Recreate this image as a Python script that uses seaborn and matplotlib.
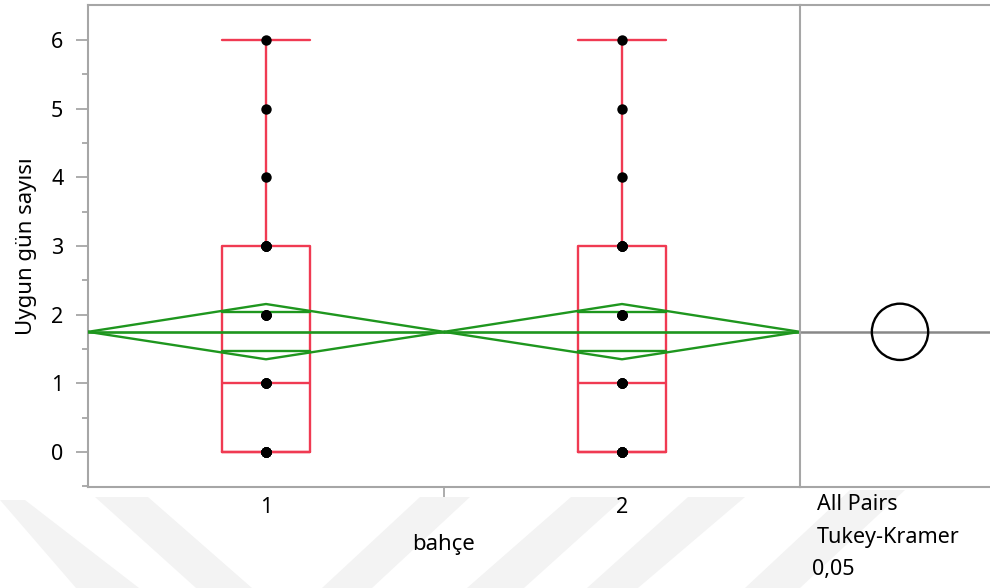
"""
Oneway plot: Uygun gün sayısı by bahçe, with box plots, means diamonds
and the Tukey-Kramer comparison circle (JMP style).
"""
import matplotlib.pyplot as plt
import numpy as np
import pandas as pd
import seaborn as sns
from matplotlib.patches import Circle, Polygon

# --- data ---
gardens = ["1", "2"]
day_values = [0, 1, 2, 3, 4, 5, 6]
counts_garden1 = [8, 5, 4, 5, 1, 1, 1]
counts_garden2 = [8, 5, 4, 5, 1, 1, 1]

group_means = [1.75, 1.75]
ci_low = [1.35, 1.35]
ci_high = [2.155, 2.155]
overlap_low = [1.466, 1.466]
overlap_high = [2.04, 2.04]
grand_mean = 1.75
tukey_radius = 0.41

RED = "#f03a52"
GREEN = "#1e961e"
SPINE = "#a6a6a6"

rows = []
for g, counts in zip(gardens, [counts_garden1, counts_garden2]):
    for v, c in zip(day_values, counts):
        rows += [{"bahce": g, "days": v}] * c
df = pd.DataFrame(rows)

sns.set_style("ticks")
plt.rcParams["font.family"] = ["Noto Sans", "DejaVu Sans"]
plt.rcParams["text.color"] = "black"
plt.rcParams["axes.labelcolor"] = "black"
plt.rcParams["xtick.labelcolor"] = "black"
plt.rcParams["ytick.labelcolor"] = "black"

W, H = 990, 588
fig = plt.figure(figsize=(W / 100, H / 100), dpi=100)


def fx(px):
    return px / W


def fy(py):
    return 1 - py / H


# faint watermark bands under the x axis
bands = [
    [(0, 500), (25, 500), (139, 588), (76, 588)],
    [(95, 497), (148, 497), (252, 588), (196, 588)],
    [(420, 497), (470, 497), (372, 588), (322, 588)],
    [(571, 497), (625, 497), (524, 588), (467, 588)],
    [(688, 497), (745, 497), (638, 588), (587, 588)],
    [(850, 490), (905, 490), (800, 588), (745, 588)],
]
for b in bands:
    fig.patches.append(Polygon([(fx(x), fy(y)) for x, y in b], closed=True,
                               transform=fig.transFigure, facecolor="#f3f3f3",
                               edgecolor="none", zorder=-5))

left, right, top, bottom = 88, 800, 5, 487
ax = fig.add_axes([fx(left), fy(bottom), fx(right - left), (bottom - top) / H])
ax2 = fig.add_axes([fx(right), fy(bottom), fx(W - right), (bottom - top) / H])

box_w = 0.246
sns.boxplot(data=df, x="bahce", y="days", order=gardens, width=box_w, gap=0,
            fill=False, color=RED, linewidth=1.7, whis=1.5, showfliers=False,
            capwidths=box_w, ax=ax)
for line in ax.lines:
    line.set_color(RED)
sns.stripplot(data=df, x="bahce", y="days", order=gardens, jitter=False,
              color="black", size=7.5, ax=ax, zorder=5)

# means diamonds
for i in range(len(gardens)):
    xs = [i - 0.5, i, i + 0.5, i, i - 0.5]
    ys = [group_means[i], ci_high[i], group_means[i], ci_low[i], group_means[i]]
    ax.plot(xs, ys, color=GREEN, lw=1.7, zorder=4)
    ax.plot([i - 0.5, i + 0.5], [group_means[i]] * 2, color=GREEN, lw=1.9, zorder=4)
    for yv in (overlap_low[i], overlap_high[i]):
        ax.plot([i - box_w / 2, i + box_w / 2], [yv, yv], color=GREEN, lw=1.7, zorder=4)

ax.set_xlim(-0.5, 1.5)
ax.set_ylim(-0.51, 6.51)
ax.set_yticks(range(0, 7))
ax.set_yticks(np.arange(-0.5, 6.5, 0.5), minor=True)
ax.set_xticks([0, 1])
ax.set_xticklabels(gardens)
ax.set_xticks([0.5], minor=True)
ax.tick_params(axis="y", which="major", length=8.6, width=1.3, color=SPINE,
               labelsize=15.5, pad=9)
ax.tick_params(axis="y", which="minor", length=4.3, width=1.3, color=SPINE)
ax.tick_params(axis="x", which="major", length=0, labelsize=15.5, pad=7)
ax.tick_params(axis="x", which="minor", length=7, width=1.3, color=SPINE)
ax.set_xlabel("bahçe", fontsize=16, labelpad=12)
ax.set_ylabel("Uygun gün sayısı", fontsize=16, labelpad=10)
for side in ["left", "bottom", "top"]:
    ax.spines[side].set_color(SPINE)
    ax.spines[side].set_linewidth(1.5)
ax.spines["right"].set_visible(False)

# Tukey-Kramer comparison circle panel
px_per_unit = (bottom - top) / (6.51 + 0.51)
ax2.set_ylim(-0.51, 6.51)
ax2.set_xlim(0, (W - right) / px_per_unit)
ax2.axhline(grand_mean, color="#888888", lw=1.8)
ax2.add_patch(Circle((100 / px_per_unit, grand_mean), tukey_radius,
                     fill=False, edgecolor="black", lw=1.7, zorder=5))
ax2.set_xticks([])
ax2.set_yticks([])
for side in ["left", "bottom", "top"]:
    ax2.spines[side].set_color(SPINE)
    ax2.spines[side].set_linewidth(1.5)
ax2.spines["right"].set_visible(False)

for txt, x, y in [("All Pairs", 817, 505), ("Tukey-Kramer", 817, 538), ("0,05", 812, 570)]:
    fig.text(fx(x), fy(y), txt, fontsize=15.5, ha="left", va="center")

fig.savefig("out.png", dpi=100)
